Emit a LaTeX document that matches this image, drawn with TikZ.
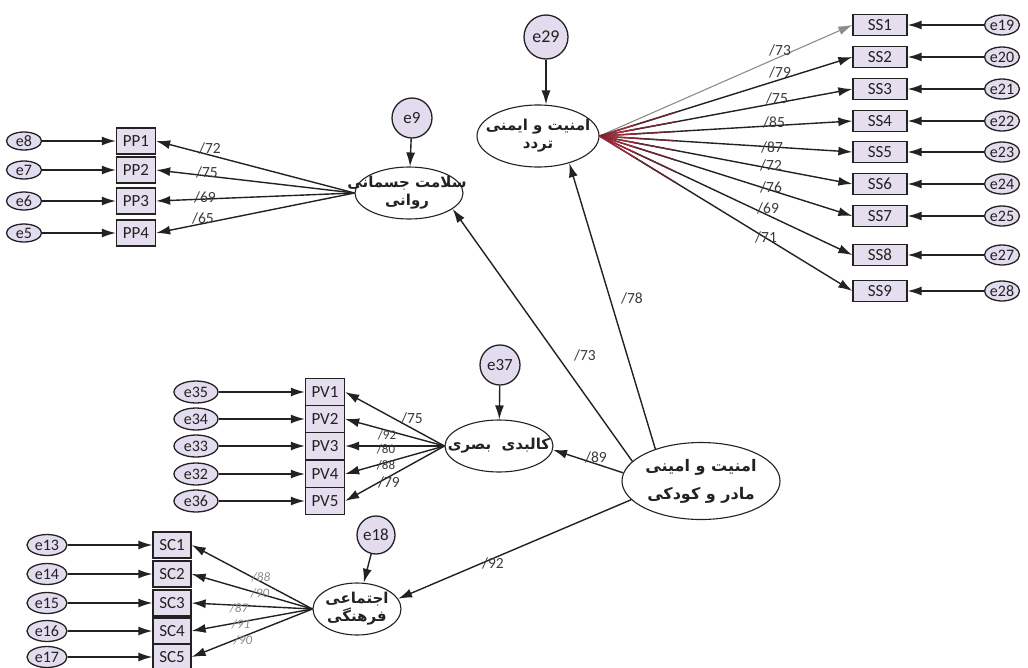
\documentclass[tikz,border=0pt]{standalone}
\usepackage{fontspec}
\setmainfont{Carlito}
\newfontfamily\arabicfont[Script=Arabic]{DejaVu Sans}
\TeXXeTstate=1
\usetikzlibrary{arrows.meta,shapes.geometric,calc}
\definecolor{boxfill}{HTML}{E4DEEE}
\definecolor{errfill}{HTML}{E2DCEE}
\definecolor{ink}{HTML}{222222}
\definecolor{lblc}{HTML}{3A3A3A}
\definecolor{paleLbl}{HTML}{8A8A8A}
\definecolor{redA}{HTML}{A02838}
\definecolor{redB}{HTML}{6A2630}
\begin{document}
\begin{tikzpicture}[x=1pt,y=-1pt,
 obs/.style={rectangle,draw=ink,line width=1.3pt,fill=boxfill,inner sep=0pt,minimum width=39pt,minimum height=26pt,font=\fontsize{17}{17}\selectfont,text=ink},
 err/.style={ellipse,draw=ink,line width=1.3pt,fill=errfill,inner sep=0pt,minimum width=35pt,minimum height=18pt,font=\fontsize{16}{16}\selectfont,text=ink},
 res/.style={circle,draw=ink,line width=1.3pt,fill=errfill,inner sep=0pt,minimum size=40pt,font=\fontsize{17}{17}\selectfont,text=ink},
 lat/.style={ellipse,draw=ink,line width=1.1pt,fill=white,inner sep=0pt},
 lattext/.style={align=center,inner sep=0pt,font=\arabicfont\bfseries\fontsize{15}{18}\selectfont,text=ink},
 arr/.style={-{Latex[length=14pt,width=9pt]},line width=1.4pt,draw=ink},
 lbl/.style={font=\fontsize{15.5}{15.5}\selectfont,text=lblc,inner sep=0pt},
 slbl/.style={font=\fontsize{13}{13}\selectfont,text=lblc,inner sep=0pt},
 plbl/.style={font=\fontsize{13}{13}\selectfont\itshape,text=paleLbl,inner sep=0pt},
 ]
\useasboundingbox (0,0) rectangle (1028,667);
\fill[white] (0,0) rectangle (1028,667);

% ---------- latent variables ----------
\node[lat,minimum width=108pt,minimum height=52pt,
  label={[lattext,xshift=-2pt]center:{\beginR سلامت جسمانی\endR\\\beginR روانی\endR}}] (L1) at (409,193) {};
\node[lat,minimum width=122pt,minimum height=62pt,
  label={[lattext]center:{\beginR امنیت و ایمنی\endR\\\beginR تردد\endR}}] (L2) at (538,136) {};
\node[lat,minimum width=108pt,minimum height=52pt,
  label={[lattext]center:{\beginR کالبدی\ \ بصری\endR}}] (L3) at (499,446) {};
\node[lat,minimum width=88pt,minimum height=52pt,
  label={[lattext]center:{\beginR اجتماعی\endR\\\beginR فرهنگی\endR}}] (L4) at (357,609) {};
\node[lat,minimum width=158pt,minimum height=77pt,
  label={[lattext,font=\arabicfont\bfseries\fontsize{16}{28}\selectfont]center:{\beginR امنیت و امینی\endR\\\beginR مادر و کودکی\endR}}] (M) at (701,481) {};

% ---------- residuals of latents ----------
\node[res] (e9) at (412,118) {e9};
\node[res,minimum size=44pt,font=\fontsize{18}{18}\selectfont] (e29) at (546,37) {e29};
\node[res] (e37) at (500,365) {e37};
\node[res,minimum size=38pt] (e18) at (376,535) {e18};

% ---------- PP block ----------
\foreach \i/\y/\e in {1/141/e8,2/170/e7,3/201/e6,4/233/e5}{
  \node[obs] (PP\i) at (136,\y) {PP\i};
  \node[err] (\e) at (24,\y) {\e};
  \draw[arr] (\e) -- (PP\i);
  \draw[arr] (L1.west) -- (PP\i.east);
}
\node[lbl] (lp1) at (210,148) {/72};
\node[lbl] (lp2) at (207,172) {/75};
\node[lbl] (lp3) at (205,197) {/69};
\node[lbl] (lp4) at (203,218) {/65};
\draw[arr] (e9) -- (L1);

% ---------- SS block ----------
\foreach \i/\y/\e in {1/25/e19,2/57/e20,3/89/e21,4/121/e22,5/152/e23,6/184/e24,7/216/e25,8/255/e27,9/291/e28}{
  \node[obs,minimum width=54pt,minimum height=21pt] (SS\i) at (880,\y) {SS\i};
  \node[err,minimum height=20pt] (\e) at (1002,\y) {\e};
  \draw[arr] (\e) -- (SS\i);
}
\draw[arr,draw=black!45,line width=1.1pt] (L2.east) -- (SS1.west);
\foreach \i in {2,...,9}{
  \draw[arr] (L2.east) -- (SS\i.west);
  \draw[line width=1.4pt,redB] ($(L2.east)!0.12!(SS\i.west)$) -- ($(L2.east)!0.30!(SS\i.west)$);
  \draw[line width=1.4pt,redA] (L2.east) -- ($(L2.east)!0.14!(SS\i.west)$);
}
\node[lbl] (ls1) at (780,50) {/73};
\node[lbl] (ls2) at (780,72) {/79};
\node[lbl] (ls3) at (777,98) {/75};
\node[lbl] (ls4) at (774,122) {/85};
\node[lbl] (ls5) at (772,147) {/87};
\node[lbl] (ls6) at (771,165) {/72};
\node[lbl] (ls7) at (771,187) {/76};
\node[lbl] (ls8) at (768,208) {/69};
\node[lbl] (ls9) at (766,237) {/71};
\draw[arr] (e29.south) -- (e29.south |- L2.north);

% ---------- PV block ----------
\foreach \i/\y/\e in {1/392/e35,2/419/e34,3/446/e33,4/474/e32,5/501/e36}{
  \node[obs,minimum height=27pt] (PV\i) at (325,\y) {PV\i};
  \node[err,minimum width=44pt,minimum height=22pt] (\e) at (196,\y) {\e};
  \draw[arr] (\e) -- (PV\i);
  \draw[arr] (L3.west) -- (PV\i.east);
}
\node[lbl] (lv1) at (412,418) {/75};
\node[slbl] (lv2) at (387,435) {/92};
\node[slbl] (lv3) at (386,449) {/80};
\node[slbl] (lv4) at (386,465) {/88};
\node[lbl] (lv5) at (389,482) {/79};
\draw[arr] (e37) -- (L3);

% ---------- SC block ----------
\foreach \i/\y/\e in {1/545/e13,2/574/e14,3/603/e15,4/631/e16,5/657/e17}{
  \node[obs,minimum width=38pt,minimum height=26pt] (SC\i) at (172,\y) {SC\i};
  \node[err,minimum width=40pt,minimum height=21pt] (\e) at (47,\y) {\e};
  \draw[arr] (\e) -- (SC\i);
  \draw[arr] (L4.west) -- (SC\i.east);
}
\node[plbl] (lc1) at (261,577) {/88};
\node[plbl] (lc2) at (260,593) {/90};
\node[plbl] (lc3) at (239,608) {/87};
\node[plbl] (lc4) at (241,624) {/91};
\node[plbl] (lc5) at (243,640) {/90};
\draw[arr] (e18) -- (L4);

% ---------- structural paths ----------
\draw[arr] (M.164) -- (L1.340);
\draw[arr] (M.145) -- (L2.319);
\draw[arr] (M.174) -- (L3.356);
\draw[arr] (M.195) -- (L4.14);
\node[lbl] (l73) at (585,355) {/73};
\node[lbl] (l78) at (632,298) {/78};
\node[lbl] (l89) at (596,457) {/89};
\node[lbl] (l92) at (493,563) {/92};
\end{tikzpicture}
\end{document}
